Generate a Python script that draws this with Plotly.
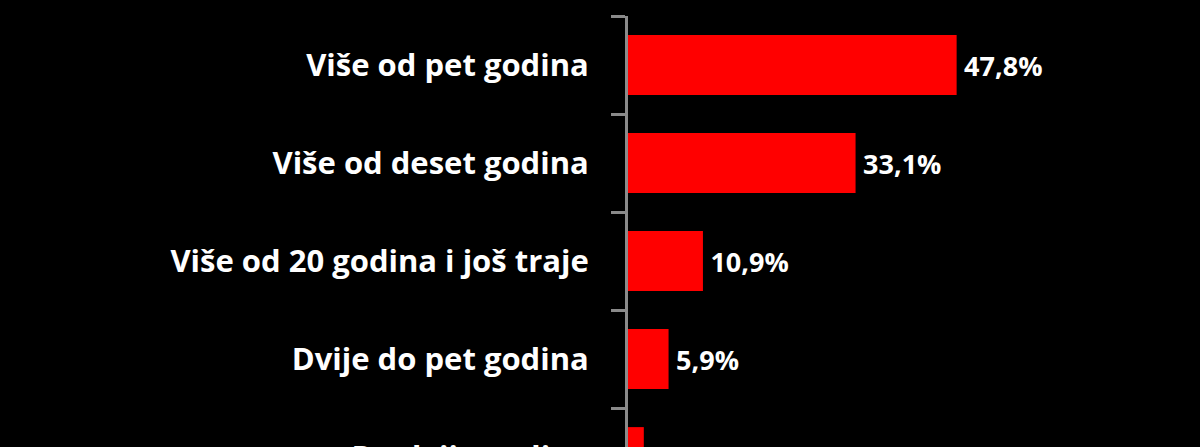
import plotly.graph_objects as go

categories = [
    "Više od pet godina",
    "Više od deset godina",
    "Više od 20 godina i još traje",
    "Dvije do pet godina",
    "Do dvije godine",
]
values = [47.8, 33.1, 10.9, 5.9, 2.3]
value_labels = ["\u2009" + f"{v:.1f}%".replace(".", ",") for v in values]

FONT = "Open Sans"

fig = go.Figure(
    go.Bar(
        x=values,
        y=categories,
        orientation="h",
        width=0.61,
        marker=dict(color="#ff0000", line=dict(width=0)),
        text=value_labels,
        textposition="outside",
        cliponaxis=False,
        textfont=dict(family=FONT, size=27, color="white", weight="bold"),
        hoverinfo="skip",
    )
)

fig.update_layout(
    width=1200,
    height=522,
    paper_bgcolor="black",
    plot_bgcolor="black",
    margin=dict(l=628, r=22, t=16, b=16),
    showlegend=False,
    xaxis=dict(
        range=[0, 80],
        visible=False,
        showgrid=False,
        zeroline=False,
    ),
    yaxis=dict(
        type="category",
        categoryorder="array",
        categoryarray=categories,
        range=[4.5, -0.5],
        showgrid=False,
        zeroline=False,
        showline=True,
        linecolor="#8a8a8a",
        linewidth=3,
        ticks="outside",
        tickson="boundaries",
        ticklen=14,
        tickwidth=3,
        tickcolor="#8a8a8a",
        ticklabelstandoff=30,
        tickfont=dict(family=FONT, size=31, color="white", weight="bold"),
    ),
)

fig.write_html(
    "out.html",
    config={"displayModeBar": False},
    post_script=(
        "document.body.style.margin='0';"
        "document.body.style.background='black';"
        "document.body.style.overflow='hidden';"
        "document.documentElement.style.overflow='hidden';"
    ),
)
